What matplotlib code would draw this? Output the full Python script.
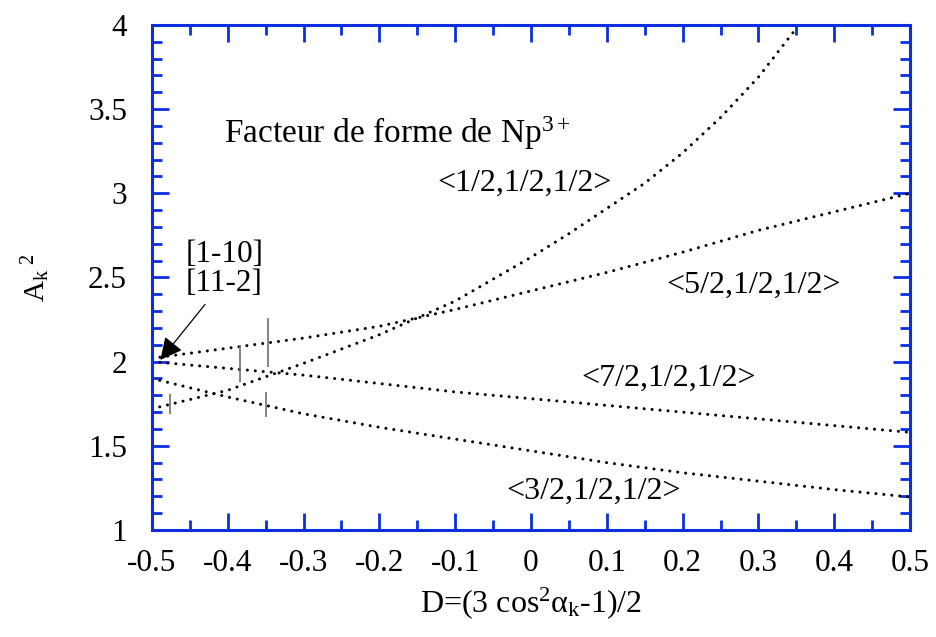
import matplotlib
matplotlib.use("Agg")
import matplotlib.pyplot as plt
from matplotlib.ticker import MultipleLocator

# values
d_half = [-0.5, -0.4, -0.3, -0.2, -0.1, 0.0, 0.05, 0.1, 0.15, 0.2, 0.25, 0.3, 0.35]
a_half = [1.72, 1.83, 1.99, 2.16, 2.36, 2.62, 2.76, 2.91, 3.06, 3.24, 3.45, 3.69, 3.98]

d_grid = [-0.5, -0.4, -0.3, -0.2, -0.1, 0.0, 0.1, 0.2, 0.3, 0.4, 0.5]
a_five = [2.02, 2.08, 2.14, 2.21, 2.31, 2.42, 2.53, 2.65, 2.78, 2.89, 3.00]
a_seven = [2.00, 1.96, 1.92, 1.87, 1.82, 1.78, 1.74, 1.70, 1.66, 1.62, 1.58]
a_three = [1.90, 1.79, 1.69, 1.61, 1.54, 1.47, 1.40, 1.34, 1.29, 1.24, 1.196]

err_d = [-0.476, -0.384, -0.347, -0.350]
err_a = [1.75, 1.99, 2.115, 1.745]
err_e = [0.06, 0.11, 0.145, 0.075]

series_labels = ['<1/2,1/2,1/2>', '<5/2,1/2,1/2>', '<7/2,1/2,1/2>', '<3/2,1/2,1/2>']
x_ticklabels = ['-0.5', '-0.4', '-0.3', '-0.2', '-0.1', '0',
                '0.1', '0.2', '0.3', '0.4', '0.5']
y_ticks = [1, 1.5, 2, 2.5, 3, 3.5, 4]
y_ticklabels = ['1', '1.5', '2', '2.5', '3', '3.5', '4']

plt.rcParams['font.family'] = ['Liberation Serif', 'DejaVu Serif']
plt.rcParams['mathtext.fontset'] = 'custom'
plt.rcParams['mathtext.rm'] = 'Liberation Serif'
plt.rcParams['mathtext.it'] = 'Liberation Serif:italic'

blue = '#0a2ee0'

fig = plt.figure(figsize=(9.37, 6.37), dpi=100)
ax = fig.add_axes([0.1622, 0.168, 0.809, 0.7928])

dot = dict(color='black', linestyle=(0, (0.01, 2.6)), linewidth=2.2,
           dash_capstyle='round')
ax.plot(d_half, a_half, **dot)
ax.plot(d_grid, a_five, **dot)
ax.plot(d_grid, a_seven, **dot)
ax.plot(d_grid, a_three, **dot)

ax.errorbar(err_d, err_a, yerr=err_e, fmt='none', ecolor='#707070',
            elinewidth=1.2, capsize=0)

ax.set_xlim(-0.5, 0.5)
ax.set_ylim(1, 4)
ax.set_xticks(d_grid)
ax.set_xticklabels(x_ticklabels)
ax.set_yticks(y_ticks)
ax.set_yticklabels(y_ticklabels)
ax.xaxis.set_minor_locator(MultipleLocator(0.05))
ax.yaxis.set_minor_locator(MultipleLocator(0.1))

for s in ax.spines.values():
    s.set_color(blue)
    s.set_linewidth(2.2)
ax.tick_params(which='both', direction='in', top=True, right=True,
               color=blue, width=2.0, labelsize=22.5)
ax.tick_params(which='major', length=12)
ax.tick_params(which='minor', length=7)
ax.tick_params(axis='x', which='major', pad=14)
ax.tick_params(axis='y', which='major', pad=18)

ax.set_xlabel(r'D=(3 cos$^2$α$_\mathrm{k}$-1)/2', fontsize=23, labelpad=5)
ax.set_ylabel(r'A$_\mathrm{k}$$^{\ 2}$', fontsize=21, labelpad=26)

ax.text(-0.405, 3.36, r'Facteur de forme de Np$^{3+}$', fontsize=24,
        ha='left', va='center')
ax.text(-0.124, 3.06, series_labels[0], fontsize=23, ha='left', va='center')
ax.text(0.179, 2.455, series_labels[1], fontsize=23, ha='left', va='center')
ax.text(0.067, 1.90, series_labels[2], fontsize=23, ha='left', va='center')
ax.text(-0.032, 1.23, series_labels[3], fontsize=23, ha='left', va='center')

# crystal directions and the arrow pointing at D = -0.5
ax.text(-0.455, 2.55, '[1-10]\n[11-2]', fontsize=22.5, ha='left',
        va='center', linespacing=1.0)
ax.annotate('', xy=(-0.489, 2.01), xytext=(-0.430, 2.34),
            arrowprops=dict(arrowstyle='-|>', color='black', lw=0.9,
                            mutation_scale=34, shrinkA=0, shrinkB=0))

fig.savefig('out.png', dpi=100)
